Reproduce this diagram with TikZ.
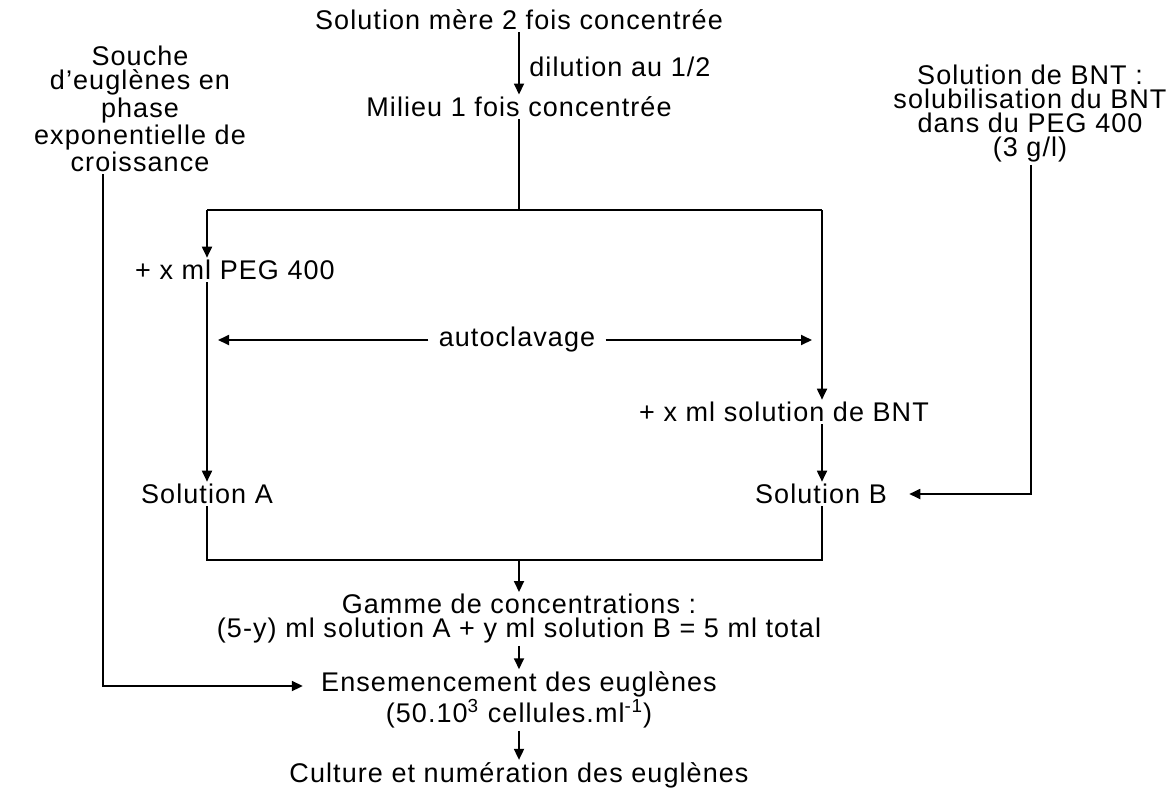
\documentclass[tikz,border=0pt]{standalone}
\usepackage{fontspec}
\setmainfont{Liberation Sans}[LetterSpace=4]
\usetikzlibrary{arrows.meta}
\tikzset{flow/.style={line width=0.9pt, -{Triangle[length=5.5pt,width=5pt]}},
         wire/.style={line width=0.9pt},
         lbl/.style={inner sep=1pt, font=\fontsize{13.5}{12}\selectfont, align=center}}

\begin{document}
\begin{tikzpicture}[x=0.5pt,y=-0.5pt]
  \useasboundingbox (0,0) rectangle (1176,809);

  \node[lbl] (mere) at (519,20) {Solution mère 2 fois concentrée};
  \node[lbl,anchor=west] (dilution) at (527,67) {dilution au 1/2};
  \node[lbl] (milieu) at (519,107) {Milieu 1 fois concentrée};
  \node[lbl] (souche) at (140,109) {Souche\\d'euglènes en\\phase\\exponentielle de\\croissance};
  \node[lbl] (bnt) at (1030,114) {Solution de BNT :\\solubilisation du BNT\\dans du PEG 400\\(3 g/l)};
  \node[lbl] (peg) at (235,270) {+ x ml PEG 400};
  \node[lbl] (autoclav) at (517,340) {autoclavage};
  \node[lbl] (bntadd) at (784,412) {+ x ml solution de BNT};
  \node[lbl] (solA) at (207,494) {Solution A};
  \node[lbl] (solB) at (821,494) {Solution B};
  \node[lbl] (gamme) at (519,619) {Gamme de concentrations :\\(5-y) ml solution A + y ml solution B = 5 ml total};
  \node[lbl] (ensem) at (519,700) {Ensemencement des euglènes\\(50.10\textsuperscript{3} cellules.ml\textsuperscript{-1})};
  \node[lbl] (culture) at (519,775) {Culture et numération des euglènes};

  \coordinate (split) at (519,210);
  \coordinate (topL) at (207,210);
  \coordinate (topR) at (822,210);
  \coordinate (botL) at (207,560);
  \coordinate (botR) at (822,560);
  \coordinate (autoL) at (218,340);
  \coordinate (autoR) at (812,340);
  \coordinate (bntL) at (1031,494);
  \coordinate (soucheL) at (103,686);

  \draw[flow] (mere) -- (milieu);
  \draw[wire] (milieu) -- (split);
  \draw[wire] (topL) -- (topR);
  \draw[flow] (topL) -- (topL |- peg.north);
  \draw[flow] (topR) -- (topR |- bntadd.north);
  \draw[flow] (topL |- peg.south) -- (topL |- solA.north);
  \draw[flow] (topR |- bntadd.south) -- (topR |- solB.north);
  \draw[flow,shorten <=4pt] (autoclav) -- (autoL);
  \draw[flow,shorten <=4pt] (autoclav) -- (autoR);
  \draw[flow,shorten >=10pt] (bnt.south -| bntL) -- (bntL) -- (solB.east);
  \draw[wire] (solA.south -| botL) -- (botL) -- (botR) -- (solB.south -| botR);
  \draw[flow] (gamme.north |- botL) -- (gamme);
  \draw[flow,shorten >=8pt] (souche.south -| soucheL) -- (soucheL) -- (soucheL -| ensem.west);
  \draw[flow] (gamme) -- (ensem);
  \draw[flow] (ensem) -- (culture);

\end{tikzpicture}
\end{document}
